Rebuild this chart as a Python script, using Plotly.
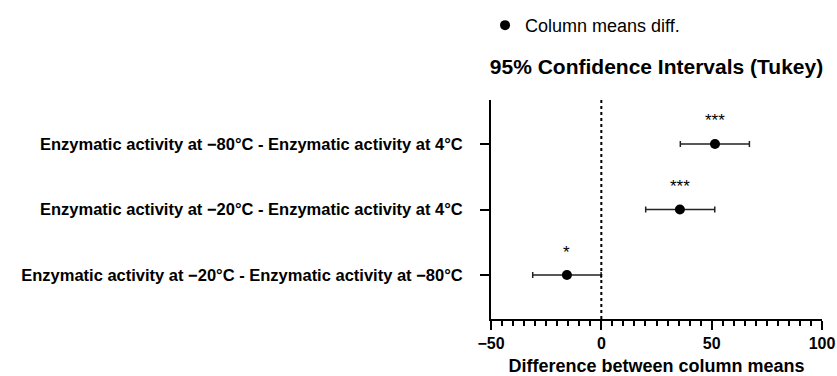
import plotly.graph_objects as go

categories = [
    "Enzymatic activity at \u221220°C - Enzymatic activity at \u221280°C",
    "Enzymatic activity at \u221220°C - Enzymatic activity at 4°C",
    "Enzymatic activity at \u221280°C - Enzymatic activity at 4°C",
]
means = [-15.6, 35.6, 51.5]
lower = [-31.1, 20.1, 35.8]
upper = [-0.1, 51.4, 67.1]
significance = ["*", "***", "***"]
x_ticks = [-50, 0, 50, 100]

FONT = "Liberation Sans, Arial, sans-serif"

fig = go.Figure()
fig.add_trace(go.Scatter(
    x=means, y=categories, mode="markers", name="Column means diff.",
    marker=dict(color="black", size=10, symbol="circle"),
    error_x=dict(type="data", symmetric=False,
                 array=[u - m for u, m in zip(upper, means)],
                 arrayminus=[m - l for m, l in zip(means, lower)],
                 color="#222222", thickness=1.5, width=3),
))

for m, c, s in zip(means, categories, significance):
    fig.add_annotation(x=m, y=c, text=s, showarrow=False, yshift=23,
                       font=dict(family=FONT, size=17, color="black"))

fig.add_shape(type="line", x0=0, x1=0, xref="x", y0=0, y1=1, yref="paper",
              line=dict(color="black", width=2, dash="dot"))

fig.update_layout(
    width=837, height=376,
    margin=dict(l=491, r=15, t=100, b=57, autoexpand=False),
    paper_bgcolor="white", plot_bgcolor="white",
    font=dict(family=FONT, color="black"),
    title=dict(text="<b>95% Confidence Intervals (Tukey)</b>", x=0.5, xref="paper",
               xanchor="center", y=1 - 67 / 376, yref="container", yanchor="middle",
               font=dict(family=FONT, size=21, color="black")),
    showlegend=True,
    legend=dict(x=-0.018, y=1.425, xanchor="left", yanchor="top",
                font=dict(family=FONT, size=18, color="black"),
                bgcolor="rgba(0,0,0,0)"),
    xaxis=dict(range=[-50, 100], tickvals=x_ticks, showgrid=False, zeroline=False,
               showline=True, linecolor="black", linewidth=2,
               ticks="outside", ticklen=9, tickwidth=2, tickcolor="black",
               tickfont=dict(family=FONT, size=16, color="black", weight="bold"),
               minor=dict(dtick=5, ticks="outside", ticklen=5, tickwidth=2, tickcolor="black"),
               title=dict(text="<b>Difference between column means</b>", standoff=8,
                          font=dict(family=FONT, size=18, color="black"))),
    yaxis=dict(type="category", categoryorder="array", categoryarray=categories,
               range=[-0.67, 2.67], showgrid=False, zeroline=False,
               showline=True, linecolor="black", linewidth=2,
               ticks="outside", ticklen=9, tickwidth=2, tickcolor="black",
               ticklabelstandoff=14,
               tickfont=dict(family=FONT, size=16.5, color="black", weight="bold")),
)

fig.write_html("out.html")
